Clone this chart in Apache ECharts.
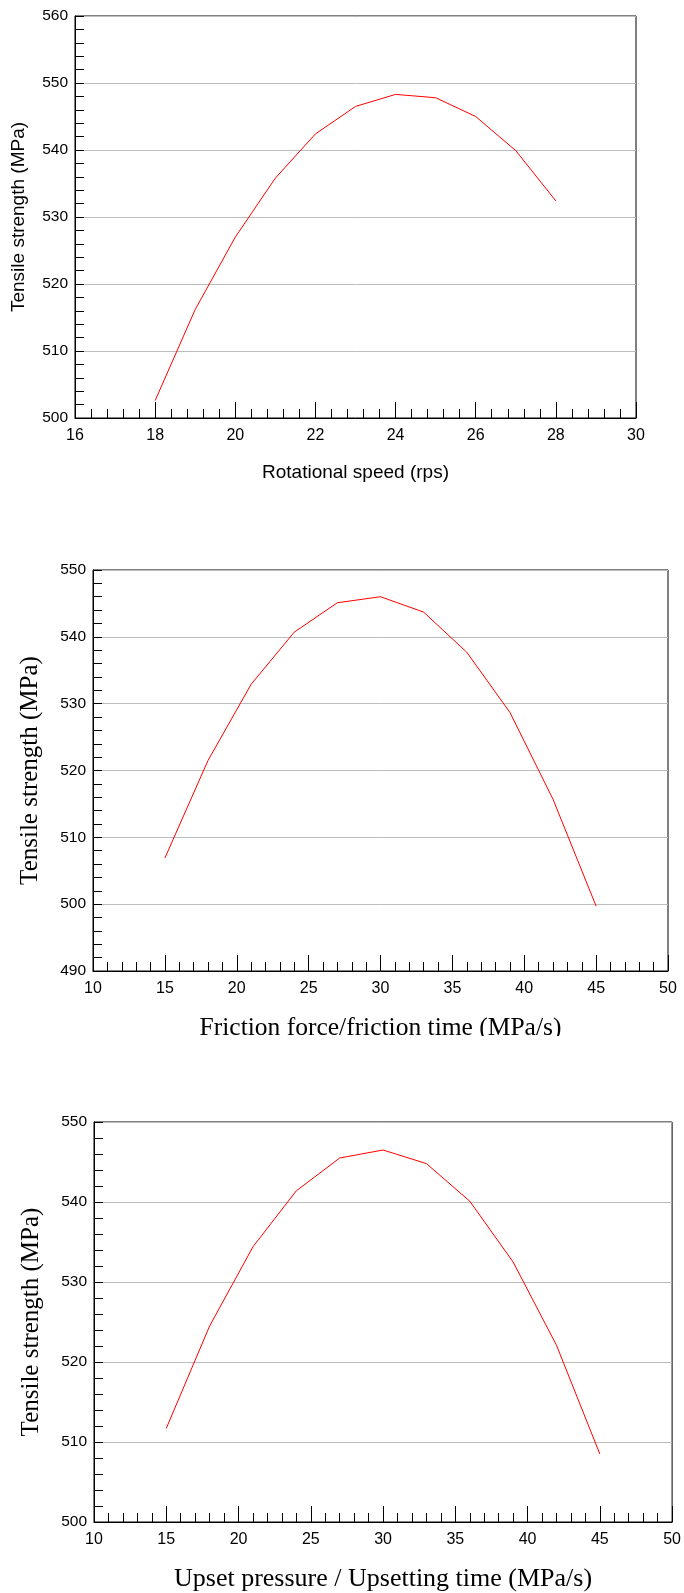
<!DOCTYPE html>
<html>
<head>
<meta charset="utf-8">
<script src="https://cdn.jsdelivr.net/npm/echarts@6/dist/echarts.min.js"></script>
<style>
html,body{margin:0;padding:0;background:#fff;}
#chart{width:684px;height:1593px;}
</style>
</head>
<body>
<div id="chart"></div>
<script>
// ---- data ----
const rotationalSpeed = [18, 19, 20, 21, 22, 23, 24, 25, 26, 27, 28];
const strengthBySpeed = [502.6, 516.2, 527.0, 535.8, 542.4, 546.5, 548.3, 547.8, 545.0, 539.9, 532.4];

const frictionRate = [15, 18, 21, 24, 27, 30, 33, 36, 39, 42, 45];
const strengthByFriction = [506.9, 521.5, 532.9, 540.7, 545.1, 546.0, 543.7, 537.7, 528.7, 515.7, 499.7];

const upsetRate = [15, 18, 21, 24, 27, 30, 33, 36, 39, 42, 45];
const strengthByUpset = [511.7, 524.5, 534.4, 541.4, 545.5, 546.5, 544.8, 540.1, 532.5, 522.1, 508.5];

// axis ranges [min, max, interval]
const xRange1 = [16, 30, 2];
const yRange1 = [500, 560, 10];
const xRange2 = [10, 50, 5];
const yRange2 = [490, 550, 10];
const xRange3 = [10, 50, 5];
const yRange3 = [500, 550, 10];

const xTitle1 = 'Rotational speed (rps)';
const xTitle2 = 'Friction force/friction time (MPa/s)';
const xTitle3 = 'Upset pressure / Upsetting time (MPa/s)';
const yTitle = 'Tensile strength (MPa)';

const SANS = 'Liberation Sans, Arial, sans-serif';
const SERIF = 'Liberation Serif, Times New Roman, serif';

function pairs(xs, ys) { return xs.map((x, i) => [x, ys[i]]); }

function xAxisCfg(idx, r, name, nameFont, nameSize, nameGap) {
  return {
    gridIndex: idx, type: 'value', min: r[0], max: r[1], interval: r[2],
    name: name, nameLocation: 'middle', nameGap: nameGap,
    nameTextStyle: { fontFamily: nameFont, fontSize: nameSize, color: '#000' },
    axisLine: { show: true, onZero: false, lineStyle: { color: '#000', width: 1 } },
    axisTick: { show: true, inside: true, length: 16, lineStyle: { color: '#000', width: 1 } },
    minorTick: { show: true, splitNumber: 5, length: 9, lineStyle: { color: '#000', width: 1 } },
    splitLine: { show: false },
    axisLabel: { color: '#000', fontFamily: SANS, fontSize: 16, margin: 10 }
  };
}
function yAxisCfg(idx, r, nameFont, nameSize, nameGap) {
  return {
    gridIndex: idx, type: 'value', min: r[0], max: r[1], interval: r[2],
    name: yTitle, nameLocation: 'middle', nameGap: nameGap,
    nameTextStyle: { fontFamily: nameFont, fontSize: nameSize, color: '#000' },
    axisLine: { show: true, onZero: false, lineStyle: { color: '#000', width: 1 } },
    axisTick: { show: true, inside: true, length: 9, lineStyle: { color: '#000', width: 1 } },
    minorTick: { show: true, splitNumber: 5, length: 9, lineStyle: { color: '#000', width: 1 } },
    splitLine: { show: true, lineStyle: { color: '#bdbdbd', width: 1 } },
    axisLabel: { color: '#000', fontFamily: SANS, fontSize: 15.5, margin: 7 }
  };
}
function lineSeries(idx, data) {
  return {
    type: 'line', xAxisIndex: idx, yAxisIndex: idx, data: data,
    showSymbol: false, symbol: 'none', smooth: false, animation: false,
    lineStyle: { color: '#ff0000', width: 1 }, z: 3
  };
}

const chart = echarts.init(document.getElementById('chart'), null, { renderer: 'canvas' });
chart.setOption({
  animation: false,
  backgroundColor: '#fff',
  grid: [
    { left: 75, top: 16, width: 561, height: 402, show: true, borderColor: '#000', borderWidth: 1 },
    { left: 93, top: 570, width: 575, height: 401, show: true, borderColor: '#000', borderWidth: 1 },
    { left: 94, top: 1122, width: 579, height: 403, show: true, borderColor: '#000', borderWidth: 1 }
  ],
  xAxis: [
    xAxisCfg(0, xRange1, xTitle1, SANS, 19, 45),
    xAxisCfg(1, xRange2, xTitle2, SERIF, 25.5, 44),
    xAxisCfg(2, xRange3, xTitle3, SERIF, 26, 44)
  ],
  yAxis: [
    yAxisCfg(0, yRange1, SANS, 19, 47),
    yAxisCfg(1, yRange2, SERIF, 25, 50),
    yAxisCfg(2, yRange3, SERIF, 25, 50)
  ],
  series: [
    lineSeries(0, pairs(rotationalSpeed, strengthBySpeed)),
    lineSeries(1, pairs(frictionRate, strengthByFriction)),
    lineSeries(2, pairs(upsetRate, strengthByUpset))
  ],
  graphic: [
    { type: 'rect', shape: { x: 150, y: 1036, width: 460, height: 40 }, style: { fill: '#fff' }, z: 100 }
  ]
});
</script>
</body>
</html>
